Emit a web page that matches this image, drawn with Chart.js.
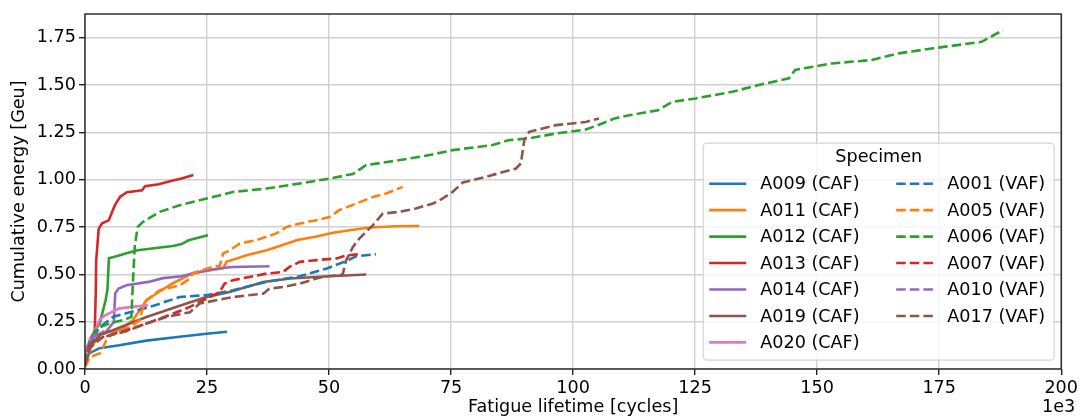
<!DOCTYPE html>
<html>
<head>
<meta charset="utf-8">
<script src="https://cdn.jsdelivr.net/npm/chart.js@4.4.1/dist/chart.umd.min.js"></script>
<style>
  html, body { margin: 0; padding: 0; background: #fff; }
  #wrap { width: 1081px; height: 416px; }
</style>
</head>
<body>
<div id="wrap"><canvas id="energyChart" width="1081" height="416"></canvas></div>
<script>
// Cumulative energy vs fatigue lifetime, [kcycles, Geu] pairs per specimen
const A009 = [[0,0.02],[0.3,0.06],[1,0.085],[3,0.11],[7,0.125],[12.6,0.15],[19.4,0.17],[24.9,0.186],[29.1,0.197]];
const A011 = [[0,0.02],[1,0.1],[3.1,0.19],[7.2,0.205],[9.8,0.257],[12.6,0.363],[14.7,0.4],[18,0.453],[22.1,0.506],[26.2,0.525],[28.3,0.532],[29,0.566],[33.1,0.601],[37.2,0.627],[39.9,0.65],[43.3,0.68],[47.4,0.7],[50.8,0.72],[54.2,0.733],[58.3,0.747],[63.7,0.754],[68.5,0.755]];
const A012 = [[0,0.02],[1,0.12],[2,0.2],[3,0.24],[3.5,0.29],[4.2,0.36],[4.6,0.42],[4.9,0.585],[7,0.6],[8.3,0.61],[10.8,0.627],[15,0.64],[18,0.65],[19.8,0.66],[21.2,0.68],[25.2,0.707]];
const A013 = [[0,0.02],[0.5,0.1],[1.5,0.15],[2,0.2],[2.2,0.4],[2.3,0.575],[2.8,0.74],[3.5,0.77],[4.85,0.785],[6.1,0.864],[7.2,0.91],[8.6,0.934],[11.7,0.944],[12.3,0.966],[15.1,0.976],[17.8,0.994],[19.8,1.006],[22.2,1.025]];
const A014 = [[0,0.03],[1.1,0.15],[2.1,0.178],[4.1,0.19],[5.9,0.248],[6.2,0.4],[6.9,0.425],[8.5,0.442],[13,0.46],[16,0.48],[19.8,0.49],[22.1,0.506],[27.6,0.532],[30.3,0.539],[37.8,0.543]];
const A019 = [[0,0.03],[1,0.12],[3,0.18],[5.7,0.205],[9.2,0.24],[12.6,0.275],[16.7,0.31],[20.8,0.346],[24.9,0.38],[29.6,0.407],[33.1,0.433],[36.5,0.46],[42,0.478],[50,0.49],[57.6,0.499]];
const A020 = [[0,0.05],[1,0.16],[2,0.2],[3,0.26],[4.1,0.284],[6.9,0.319],[9.6,0.328],[12.9,0.337]];
const A001 = [[0,0.03],[1,0.12],[2,0.18],[3,0.22],[5.7,0.275],[9.2,0.3],[13.3,0.328],[19.4,0.38],[24.9,0.39],[30.3,0.416],[37.2,0.46],[44,0.49],[49.4,0.53],[53.5,0.57],[55.6,0.596],[59.6,0.606]];
const A005 = [[0,0.01],[1,0.063],[3.1,0.083],[4.4,0.152],[5.7,0.19],[9.2,0.222],[11.2,0.257],[11.9,0.328],[12.6,0.363],[15.3,0.416],[19.4,0.442],[21.5,0.478],[22.1,0.506],[26.2,0.54],[27.6,0.545],[28.3,0.61],[29.7,0.627],[31.7,0.663],[35.1,0.68],[39.2,0.716],[41.3,0.75],[44,0.768],[47.4,0.786],[50.1,0.803],[52.1,0.839],[55.6,0.874],[59,0.909],[61.7,0.927],[65.1,0.962]];
const A006 = [[0,0.03],[1,0.15],[2,0.2],[3,0.22],[5,0.24],[8,0.26],[9.5,0.275],[9.8,0.45],[10.2,0.65],[10.8,0.75],[11.9,0.777],[15.3,0.83],[19.4,0.865],[24.9,0.9],[30.3,0.935],[37.2,0.953],[44,0.98],[50.1,1.006],[54.9,1.03],[57.6,1.077],[63.7,1.1],[70.6,1.13],[75.3,1.156],[83.5,1.183],[86.9,1.209],[91,1.218],[96.5,1.244],[102.6,1.265],[105.3,1.29],[108.7,1.325],[111.5,1.34],[117.4,1.367],[120.3,1.411],[125.1,1.429],[132.6,1.464],[138,1.5],[144.2,1.535],[145.5,1.58],[153,1.614],[161.2,1.632],[166.7,1.667],[173.5,1.693],[180.3,1.716],[183.7,1.728],[188.1,1.79]];
const A007 = [[0,0.02],[1,0.116],[3.7,0.169],[8.5,0.205],[12.6,0.24],[18.1,0.293],[21.5,0.328],[23.5,0.354],[25.6,0.38],[27.6,0.407],[28.6,0.451],[30.3,0.469],[33.7,0.486],[37.2,0.504],[40.6,0.513],[41.9,0.539],[44,0.566],[47.4,0.575],[51.5,0.584],[53.5,0.6],[55.9,0.606]];
const A010 = [[0,0.02],[0.5,0.12],[1.5,0.17],[3,0.19],[4,0.2]];
const A017 = [[0,0.02],[1,0.14],[3.7,0.169],[8.5,0.2],[12.6,0.24],[16.7,0.275],[21.5,0.3],[23.5,0.346],[26.9,0.363],[30.3,0.38],[36.5,0.398],[37.8,0.425],[40.6,0.433],[44,0.451],[47.4,0.478],[49.4,0.49],[52.1,0.495],[52.8,0.5],[53.5,0.575],[54.9,0.645],[56.2,0.689],[59,0.76],[61,0.821],[64.4,0.83],[67.8,0.848],[71.3,0.874],[72.6,0.89],[75.3,0.935],[77.4,0.985],[82.1,1.015],[88.3,1.059],[89.3,1.086],[90,1.209],[91,1.253],[96.5,1.288],[102.6,1.305],[105.3,1.323]];

const cafNames = ['A009 (CAF)', 'A011 (CAF)', 'A012 (CAF)', 'A013 (CAF)', 'A014 (CAF)', 'A019 (CAF)', 'A020 (CAF)'];
const cafSeries = [A009, A011, A012, A013, A014, A019, A020];
const vafNames = ['A001 (VAF)', 'A005 (VAF)', 'A006 (VAF)', 'A007 (VAF)', 'A010 (VAF)', 'A017 (VAF)'];
const vafSeries = [A001, A005, A006, A007, A010, A017];

const xTicks = [0, 25, 50, 75, 100, 125, 150, 175, 200];
const yTicks = [0, 0.25, 0.5, 0.75, 1.0, 1.25, 1.5, 1.75];

const palette = ['#1f77b4', '#ff7f0e', '#2ca02c', '#d62728', '#9467bd', '#8c564b', '#e377c2'];
const FONT = 'DejaVu Sans';
const FS = 17.6;
const DASH = [9.5, 4.1];

function makeSet(name, pts, i, dashed, order) {
    return {
        label: name,
        data: pts.map(p => ({ x: p[0], y: p[1] })),
        borderColor: palette[i],
        backgroundColor: palette[i],
        borderWidth: 2.6,
        borderDash: dashed ? DASH : [],
        pointRadius: 0,
        tension: 0,
        fill: false,
        order: order
    };
}

const datasets = [];
const total = cafSeries.length + vafSeries.length;
cafSeries.forEach((s, i) => datasets.push(makeSet(cafNames[i], s, i, false, total - datasets.length)));
vafSeries.forEach((s, i) => datasets.push(makeSet(vafNames[i], s, i, true, total - datasets.length)));

// full box around the plot area, like matplotlib spines
const frame = {
    id: 'frame',
    afterDatasetsDraw(chart) {
        const { ctx, chartArea: a } = chart;
        ctx.save();
        ctx.strokeStyle = '#222';
        ctx.lineWidth = 1.4;
        ctx.strokeRect(a.left, a.top, a.right - a.left, a.bottom - a.top);
        ctx.restore();
    }
};

// "1e3" offset text under the right end of the x axis
const offsetText = {
    id: 'offsetText',
    afterDraw(chart) {
        const { ctx, chartArea: a } = chart;
        ctx.save();
        ctx.font = FS + 'px "' + FONT + '"';
        ctx.fillStyle = '#000';
        ctx.textAlign = 'right';
        ctx.textBaseline = 'middle';
        ctx.fillText('1e3', a.right + 14, 407);
        ctx.restore();
    }
};

// two-column legend in the lower right corner, column-major
const specimenLegend = {
    id: 'specimenLegend',
    afterDraw(chart) {
        const { ctx, chartArea: a } = chart;
        const sets = chart.data.datasets;
        const w = 351, h = 217;
        const x0 = a.right - 7 - w, y0 = a.bottom - 8.8 - h;
        ctx.save();
        ctx.beginPath();
        ctx.roundRect(x0, y0, w, h, 4);
        ctx.fillStyle = 'rgba(255,255,255,0.8)';
        ctx.fill();
        ctx.strokeStyle = '#d4d4d4';
        ctx.lineWidth = 1.2;
        ctx.stroke();

        ctx.font = FS + 'px "' + FONT + '"';
        ctx.fillStyle = '#000';
        ctx.textAlign = 'center';
        ctx.textBaseline = 'middle';
        ctx.fillText('Specimen', x0 + w / 2, y0 + 14);

        const rows = Math.ceil(sets.length / 2);
        const colX = [x0 + 6, x0 + 193];
        ctx.textAlign = 'left';
        sets.forEach((ds, i) => {
            const col = Math.floor(i / rows), row = i % rows;
            const cx = colX[col];
            const cy = y0 + 40.5 + row * 26.45;
            ctx.beginPath();
            ctx.setLineDash(ds.borderDash);
            ctx.strokeStyle = ds.borderColor;
            ctx.lineWidth = ds.borderWidth;
            ctx.moveTo(cx, cy);
            ctx.lineTo(cx + 37, cy);
            ctx.stroke();
            ctx.setLineDash([]);
            ctx.fillStyle = '#000';
            ctx.fillText(ds.label, cx + 51, cy + 1);
        });
        ctx.restore();
    }
};

const tickFont = { family: FONT, size: FS };
const gridOpts = { color: '#d0d0d0', lineWidth: 1.4, tickColor: '#222', tickLength: 6, tickWidth: 1.4 };

new Chart(document.getElementById('energyChart').getContext('2d'), {
    type: 'line',
    data: { datasets: datasets },
    options: {
        responsive: false,
        animation: false,
        layout: { padding: { left: 0, top: 14, right: 18, bottom: 0 } },
        plugins: { legend: { display: false }, tooltip: { enabled: false } },
        scales: {
            x: {
                type: 'linear',
                min: 0,
                max: 200,
                afterBuildTicks: s => { s.ticks = xTicks.map(v => ({ value: v })); },
                afterFit: s => { s.height = 47; },
                ticks: { font: tickFont, color: '#000', padding: 3, maxRotation: 0, autoSkip: false,
                         callback: v => String(v) },
                grid: gridOpts,
                border: { display: false },
                title: { display: true, text: 'Fatigue lifetime [cycles]', color: '#000',
                         font: { family: FONT, size: FS, lineHeight: 1.0 }, padding: 0 }
            },
            y: {
                min: 0,
                max: 1.875,
                afterBuildTicks: s => { s.ticks = yTicks.map(v => ({ value: v })); },
                afterFit: s => { s.width = 85; },
                ticks: { font: tickFont, color: '#000', padding: 3, autoSkip: false,
                         callback: v => Number(v).toFixed(2) },
                grid: gridOpts,
                border: { display: false },
                title: { display: true, text: 'Cumulative energy [Geu]', color: '#000',
                         font: { family: FONT, size: FS, lineHeight: 1.0 }, padding: { top: 11, bottom: 0 } }
            }
        }
    },
    plugins: [frame, offsetText, specimenLegend]
});
</script>
</body>
</html>
